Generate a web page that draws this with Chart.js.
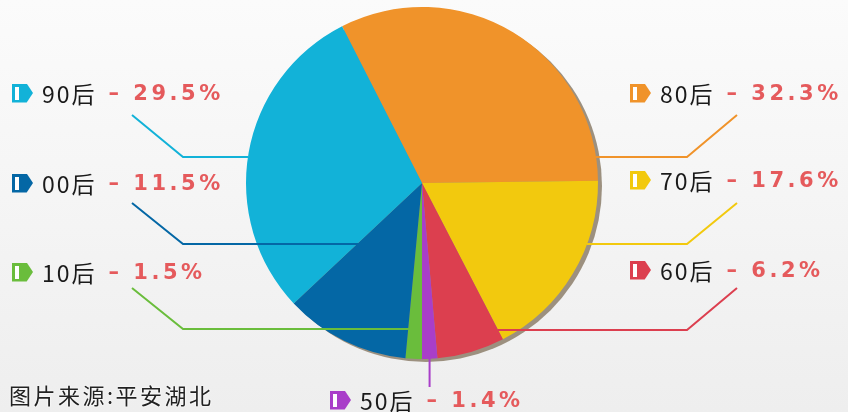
<!DOCTYPE html>
<html><head><meta charset="utf-8">
<script src="https://cdn.jsdelivr.net/npm/chart.js@4/dist/chart.umd.min.js"></script>
<style>
html,body{margin:0;padding:0;}
body{width:848px;height:412px;overflow:hidden;position:relative;
 background:linear-gradient(180deg,#fbfbfb 0%,#f4f4f4 55%,#eeeeee 100%);}
#wrap{position:absolute;left:0;top:0;width:848px;height:412px;}
.lab{position:absolute;height:26px;display:flex;align-items:center;white-space:nowrap;}
.ico{position:relative;width:21px;height:19px;display:inline-block;
 clip-path:polygon(0 0,70% 0,100% 50%,70% 100%,0 100%);margin-right:9px;}
.ico i{position:absolute;left:3px;top:3px;width:4px;height:13px;background:#fff;}
.cat{font-family:"Noto Sans CJK SC","Noto Sans",sans-serif;font-size:23px;color:#1a1a1a;letter-spacing:2px;}
.pct{font-family:"DejaVu Sans",sans-serif;font-weight:bold;font-size:21px;color:#e55a5c;letter-spacing:3.5px;margin-left:12px;}
#src{position:absolute;left:9px;top:378px;font-family:"Noto Sans CJK SC",sans-serif;font-size:22px;letter-spacing:2.5px;color:#222;
 text-shadow:0 0 2px #fff,0 0 2px #fff;}
</style></head>
<body>
<div id="wrap"><canvas id="c" width="848" height="412"></canvas></div>
<div id="labels"></div>
<div id="src"></div>
<script>
// ---- data ----
const categories = ['80后','70后','60后','50后','10后','00后','90后'];
const shares = [32.3, 17.6, 6.2, 1.4, 1.5, 11.5, 29.5];
const sliceColors = ['#f0932a','#f2c90e','#dc3f4f','#a93ec9','#6abd3c','#0467a5','#12b2d8'];
const sourceNote = '图片来源:平安湖北';

// ---- label layout (styling only) ----
const layout = {
 '90后':{x:12,y:80, side:'L', start:[132,115], knee:[183,157]},
 '00后':{x:12,y:170,side:'L', start:[132,203], knee:[183,244]},
 '10后':{x:12,y:259,side:'L', start:[132,288], knee:[183,329]},
 '80后':{x:630,y:80, side:'R', start:[737,115], knee:[687,157]},
 '70后':{x:630,y:167,side:'R', start:[737,203], knee:[687,244]},
 '60后':{x:630,y:257,side:'R', start:[737,288], knee:[687,330]},
 '50后':{x:330,y:387,side:'B', start:[0,387]}
};

document.getElementById('src').textContent = sourceNote;
const labelsDiv = document.getElementById('labels');
categories.forEach((c,i)=>{
  const L = layout[c];
  const d = document.createElement('div');
  d.className='lab'; d.style.left=L.x+'px'; d.style.top=L.y+'px';
  d.innerHTML = `<span class="ico" style="background:${sliceColors[i]}"><i></i></span><span class="cat">${c}</span><span class="pct">– ${shares[i]}%</span>`;
  labelsDiv.appendChild(d);
});

const shadowPlugin = {
  id:'shadow',
  beforeDatasetsDraw(chart){
    const a = chart.getDatasetMeta(0).data[0];
    const ctx = chart.ctx;
    ctx.save();
    ctx.fillStyle='#9c907f';
    ctx.beginPath();
    ctx.arc(a.x+4, a.y+3, a.outerRadius, 0, Math.PI*2);
    ctx.fill();
    ctx.restore();
  }
};

const leaderPlugin = {
  id:'leaders',
  afterDatasetsDraw(chart){
    const meta = chart.getDatasetMeta(0);
    const ctx = chart.ctx;
    ctx.save();
    ctx.lineWidth = 2;
    categories.forEach((c,i)=>{
      const L = layout[c]; const arc = meta.data[i];
      ctx.strokeStyle = sliceColors[i];
      ctx.beginPath();
      if (L.side === 'B') {
        const mid = (arc.startAngle+arc.endAngle)/2;
        const x = arc.x + Math.cos(mid)*arc.outerRadius*0.98;
        let y = L.start[1];
        while (y > arc.y && !arc.inRange(x, y)) y--;
        ctx.moveTo(x, L.start[1]); ctx.lineTo(x, y);
      } else {
        const dir = L.side === 'L' ? 1 : -1;
        const yy = L.knee[1];
        let x = L.knee[0];
        while (Math.abs(x - arc.x) > 1 && !arc.inRange(x, yy)) x += dir;
        ctx.moveTo(L.start[0], L.start[1]);
        ctx.lineTo(L.knee[0], L.knee[1]);
        ctx.lineTo(x, yy);
      }
      ctx.stroke();
    });
    ctx.restore();
  }
};

new Chart(document.getElementById('c'), {
  type:'pie',
  data:{labels:categories, datasets:[{data:shares, backgroundColor:sliceColors, borderWidth:0, hoverOffset:0}]},
  options:{
    responsive:false, animation:false, rotation:-27,
    layout:{padding:{left:246,right:250,top:7,bottom:53}},
    plugins:{legend:{display:false}, tooltip:{enabled:false}},
    events:[]
  },
  plugins:[shadowPlugin, leaderPlugin]
});
</script>
</body></html>
